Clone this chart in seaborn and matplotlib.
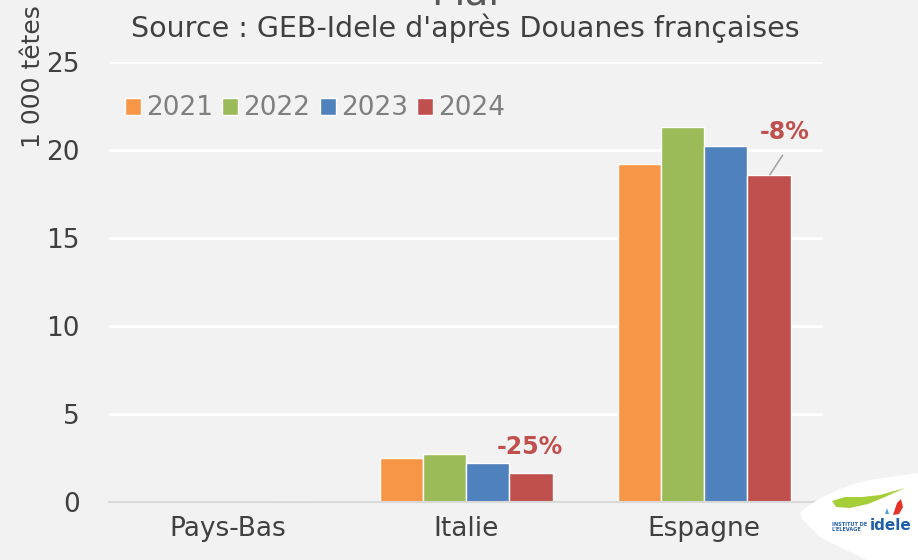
import pandas as pd
import numpy as np
import matplotlib
matplotlib.use("Agg")
import matplotlib.pyplot as plt
import seaborn as sns
from matplotlib.patches import Polygon

# data (1 000 têtes)
pays = ["Pays-Bas", "Italie", "Espagne"]
annees = ["2021", "2022", "2023", "2024"]
v2021 = [0.0, 2.5, 19.2]
v2022 = [0.0, 2.7, 21.3]
v2023 = [0.0, 2.2, 20.2]
v2024 = [0.05, 1.65, 18.6]
couleurs = ["#f79646", "#9bbb59", "#4f81bd", "#c0504d"]

df = pd.DataFrame({
    "pays": pays * 4,
    "annee": [a for a in annees for _ in pays],
    "tetes": v2021 + v2022 + v2023 + v2024,
})

sns.set_theme(style="white")
plt.rcParams["font.family"] = ["DejaVu Sans"]
bg = "#f2f2f2"

fig = plt.figure(figsize=(9.18, 5.6), dpi=100, facecolor=bg)
ax = fig.add_axes([0.119, 0.1036, 0.7775, 0.7857])
ax.set_facecolor(bg)

sns.barplot(data=df, x="pays", y="tetes", hue="annee", order=pays,
            hue_order=annees, palette=couleurs, width=0.727, gap=0,
            saturation=1, ax=ax, zorder=3)

ax.set_ylim(0, 25)
ax.set_yticks([0, 5, 10, 15, 20, 25])
ax.yaxis.grid(True, color="white", linewidth=2, zorder=0)
ax.set_axisbelow(True)
for s in ["top", "right", "left"]:
    ax.spines[s].set_visible(False)
ax.spines["bottom"].set_color("#d9d9d9")
ax.spines["bottom"].set_linewidth(1.5)
ax.spines["bottom"].set_zorder(4)
ax.tick_params(axis="both", length=0, labelsize=19, colors="#404040")
ax.tick_params(axis="x", pad=10)
ax.tick_params(axis="y", pad=21)
ax.set_xlabel("")
ax.set_ylabel("")

fig.text(0.036, 0.99, "1 000 têtes", rotation=90, ha="center", va="top",
         fontsize=18, color="#404040")
fig.text(0.507, 1.045, "Mai", ha="center", va="top", fontsize=28, color="#595959")
fig.text(0.507, 0.949, "Source : GEB-Idele d'après Douanes françaises",
         ha="center", va="center", fontsize=20.5, color="#404040")

leg = ax.legend(loc="upper left", bbox_to_anchor=(0.0, 0.96), ncol=4, frameon=False,
                fontsize=19, handlelength=0.6, handleheight=0.6,
                handletextpad=0.2, columnspacing=0.35, borderaxespad=0.2)
for t in leg.get_texts():
    t.set_color("#7f7f7f")

# variation labels
ax.text(1.27, 2.45, "-25%", ha="center", va="bottom", fontsize=17,
        fontweight="bold", color="#c0504d")
ax.text(2.34, 20.35, "-8%", ha="center", va="bottom", fontsize=17,
        fontweight="bold", color="#c0504d")
ax.plot([2.33, 2.277], [19.7, 18.6], color="#a6a6a6", linewidth=1.2, zorder=5)


# logo (pixel outlines -> figure fraction)
def fpoly(pts, color, z=1):
    fig.patches.append(Polygon([(x / 918, 1 - y / 560) for x, y in pts],
                               closed=True, transform=fig.transFigure,
                               facecolor=color, edgecolor="none", zorder=z))


fpoly([(800, 513), (808, 506), (823, 497), (840, 489), (857, 483), (875, 479),
       (890, 477), (918, 473), (918, 560), (867, 560), (840, 547), (820, 537),
       (810, 527), (802, 519)], "white")
fpoly([(832, 501), (845, 497), (862, 497), (880, 495), (905, 488), (885, 497),
       (868, 504), (850, 508), (836, 507)], "#a6ce39", 2)
fpoly([(893, 515), (897, 503), (901, 499), (903, 507), (899, 514)], "#e5332a", 2)
fpoly([(885, 514), (887, 508), (889, 514)], "#4f9fd8", 2)
fig.text(832 / 918, 1 - 527 / 560, "INSTITUT DE\nL'ELEVAGE", fontsize=3.6, fontweight="bold",
         color="#1f5fa8", ha="left", va="center", linespacing=1.0)
fig.text(870 / 918, 1 - 526 / 560, "idele", fontsize=11, fontweight="bold", color="#1f5fa8",
         ha="left", va="center")

fig.savefig("out.png", dpi=100, facecolor=bg)
